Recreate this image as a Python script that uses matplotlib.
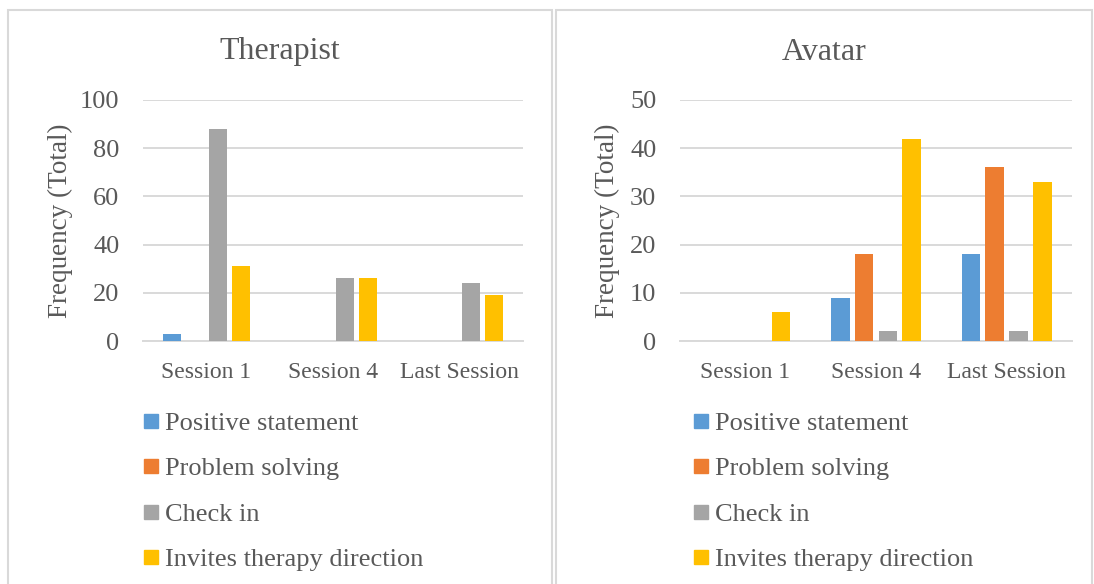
import numpy as np
import matplotlib.pyplot as plt
from matplotlib.patches import Rectangle
from matplotlib.lines import Line2D

plt.rcParams['font.family'] = ['Liberation Serif', 'DejaVu Serif']

sessions = ['Session 1', 'Session 4', 'Last Session']
codes = ['Positive statement', 'Problem solving', 'Check in', 'Invites therapy direction']
colors = ['#5b9bd5', '#ed7d31', '#a5a5a5', '#ffc000']

# counts per code, one value per session
therapist = {
    'Positive statement': [3, 0, 0],
    'Problem solving': [0, 0, 0],
    'Check in': [88, 26, 24],
    'Invites therapy direction': [31, 26, 19],
}
avatar = {
    'Positive statement': [0, 9, 18],
    'Problem solving': [0, 18, 36],
    'Check in': [0, 2, 2],
    'Invites therapy direction': [6, 42, 33],
}

text_col = '#595959'
grid_col = '#d9d9d9'

W, H = 1094, 584
fig = plt.figure(figsize=(W / 100, H / 100), dpi=100)


def px_rect(x0, y0, x1, y1):
    # pixel box (top-left origin) -> figure fraction [l, b, w, h]
    return [x0 / W, 1 - y1 / H, (x1 - x0) / W, (y1 - y0) / H]


def draw_panel(box, title, data, ymax, step, panel_x0, panel_x1, ylab_x, leg_x):
    ax = fig.add_axes(px_rect(*box))
    x = np.arange(len(sessions))
    slot, bw = 0.182, 0.142
    for i, code in enumerate(codes):
        ax.bar(x + (i - 1.5) * slot, data[code], width=bw, color=colors[i],
               zorder=3)
    ax.set_xlim(-0.5, len(sessions) - 0.5)
    ax.set_ylim(0, ymax)
    ax.set_yticks(np.arange(0, ymax + 1, step))
    ax.set_xticks(x)
    ax.set_xticklabels(sessions, fontsize=17, color=text_col)
    ax.tick_params(axis='y', labelsize=19, colors=text_col, length=0, pad=17)
    ax.tick_params(axis='x', length=0, pad=15)
    ax.grid(axis='y', color=grid_col, linewidth=1.4, zorder=0)
    for s in ['top', 'right', 'left']:
        ax.spines[s].set_visible(False)
    ax.spines['bottom'].set_color(grid_col)
    ax.spines['bottom'].set_linewidth(1.4)

    fig.text(ylab_x / W, 1 - 221 / H, 'Frequency (Total)', rotation=90,
             fontsize=19.5, color=text_col, ha='center', va='center')

    cx = (panel_x0 + panel_x1) / 2
    fig.text(cx / W, 1 - 52 / H, title, fontsize=23, color=text_col,
             ha='center', va='center')

    # panel frame
    fig.patches.append(Rectangle((panel_x0 / W, -0.05), (panel_x1 - panel_x0) / W,
                                 1.05 - 10 / H, transform=fig.transFigure,
                                 fill=False, edgecolor=grid_col, linewidth=1.5))

    handles = [Line2D([], [], marker='s', linestyle='none', markersize=9.5,
                      markerfacecolor=c, markeredgecolor=c) for c in colors]
    fig.legend(handles, codes, loc='upper left',
               bbox_to_anchor=(leg_x / W, 1 - 401 / H), frameon=False,
               fontsize=19, labelcolor=text_col, handlelength=0.6,
               handletextpad=0.22, labelspacing=0.83, borderaxespad=0)
    return ax


draw_panel((143, 100, 523, 341), 'Therapist', therapist, 100, 20, 8, 552, 60, 133)
draw_panel((680, 100, 1072, 341), 'Avatar', avatar, 50, 10, 556, 1092, 607, 683)

fig.savefig('out.png', dpi=100, facecolor='white')
